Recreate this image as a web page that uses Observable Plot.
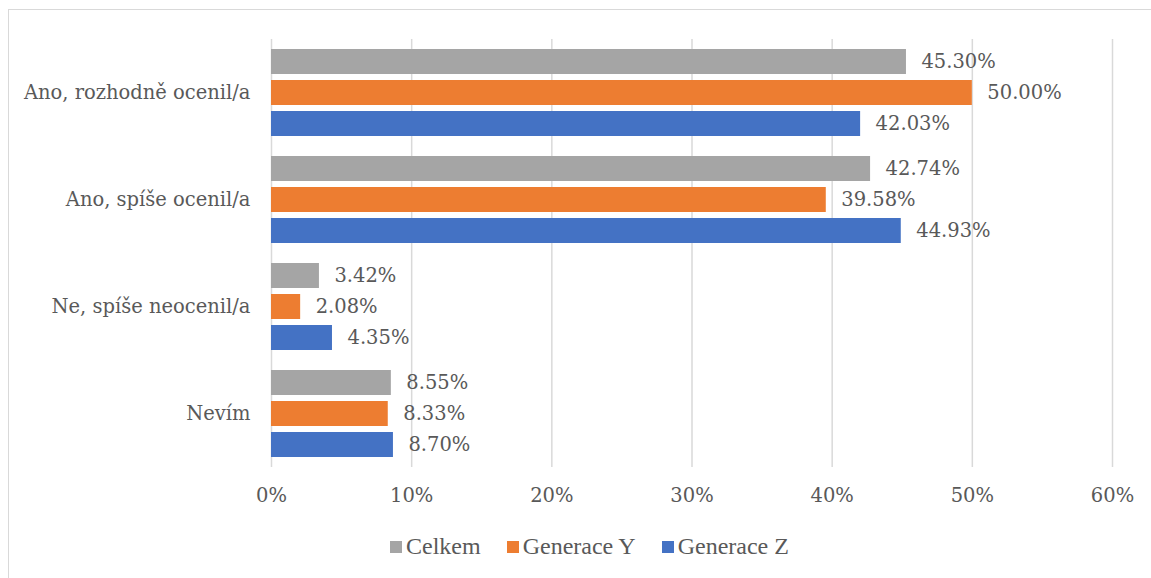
<!DOCTYPE html>
<html>
<head>
<meta charset="utf-8">
<script src="https://cdn.jsdelivr.net/npm/d3@7"></script>
<script src="https://cdn.jsdelivr.net/npm/@observablehq/plot@0.6"></script>
<style>
  html, body { margin: 0; padding: 0; background: #fff; width: 1151px; height: 578px; overflow: hidden; }
  #frame { position: absolute; left: 8px; top: 9px; width: 1200px; height: 620px; border: 1.5px solid #d9d9d9; box-sizing: border-box; }
  #chart { position: absolute; left: 0; top: 0; }
  #legend { position: absolute; left: 390px; top: 533px; display: flex; align-items: center; font-family: "Liberation Serif", serif; font-size: 24px; color: #595959; white-space: nowrap; }
  .item { display: flex; align-items: center; margin-right: 26px; }
  .sw { width: 12px; height: 12px; margin-right: 4px; }
</style>
</head>
<body>
<div id="frame"></div>
<div id="chart"></div>
<div id="legend"></div>
<script>
const categories = ["Ano, rozhodně ocenil/a", "Ano, spíše ocenil/a", "Ne, spíše neocenil/a", "Nevím"];
const series = ["Celkem", "Generace Y", "Generace Z"];
const colors = ["#A5A5A5", "#ED7D31", "#4472C4"];
const celkem = [45.30, 42.74, 3.42, 8.55];
const generaceY = [50.00, 39.58, 2.08, 8.33];
const generaceZ = [42.03, 44.93, 4.35, 8.70];
const xTicks = [0, 10, 20, 30, 40, 50, 60];

const seriesValues = [celkem, generaceY, generaceZ];
const rows = [];
categories.forEach((c, i) => {
  series.forEach((s, j) => rows.push({cat: c, series: s, value: seriesValues[j][i]}));
});

const FONT = "DejaVu Serif";

const plot = Plot.plot({
  width: 1151,
  height: 520,
  marginLeft: 271,
  marginRight: 39,
  marginTop: 38,
  marginBottom: 52,
  facet: {data: rows, y: "cat", marginRight: 0},
  fy: {domain: categories, padding: 0, axis: "left", label: null, tickSize: 0, tickPadding: 21},
  y: {domain: series, axis: null, paddingInner: 0.2, paddingOuter: 0.31},
  x: {domain: [0, 60], ticks: xTicks, tickFormat: d => d + "%", tickSize: 0, tickPadding: 21, label: null},
  color: {domain: series, range: colors},
  marks: [
    Plot.ruleX(xTicks, {stroke: "#d9d9d9", strokeWidth: 1.5}),
    Plot.barX(rows, {x: "value", y: "series", fill: "series"}),
    Plot.text(rows, {x: "value", y: "series", text: d => d.value.toFixed(2) + "%", textAnchor: "start", dx: 15, fill: "#595959"})
  ]
});
plot.removeAttribute("style");
plot.style.background = "transparent";
plot.style.overflow = "visible";
d3.select(plot).attr("font-family", FONT).attr("font-size", 19.5);
d3.select(plot).selectAll("g").attr("font-family", null).attr("font-size", null);
d3.select(plot).selectAll("text")
  .attr("font-family", FONT)
  .attr("font-size", 19.5)
  .attr("fill", "#595959");
document.getElementById("chart").appendChild(plot);

const legend = document.getElementById("legend");
series.forEach((s, i) => {
  const it = document.createElement("div");
  it.className = "item";
  const sw = document.createElement("div");
  sw.className = "sw";
  sw.style.background = colors[i];
  const t = document.createElement("span");
  t.textContent = s;
  it.appendChild(sw);
  it.appendChild(t);
  legend.appendChild(it);
});
</script>
</body>
</html>
